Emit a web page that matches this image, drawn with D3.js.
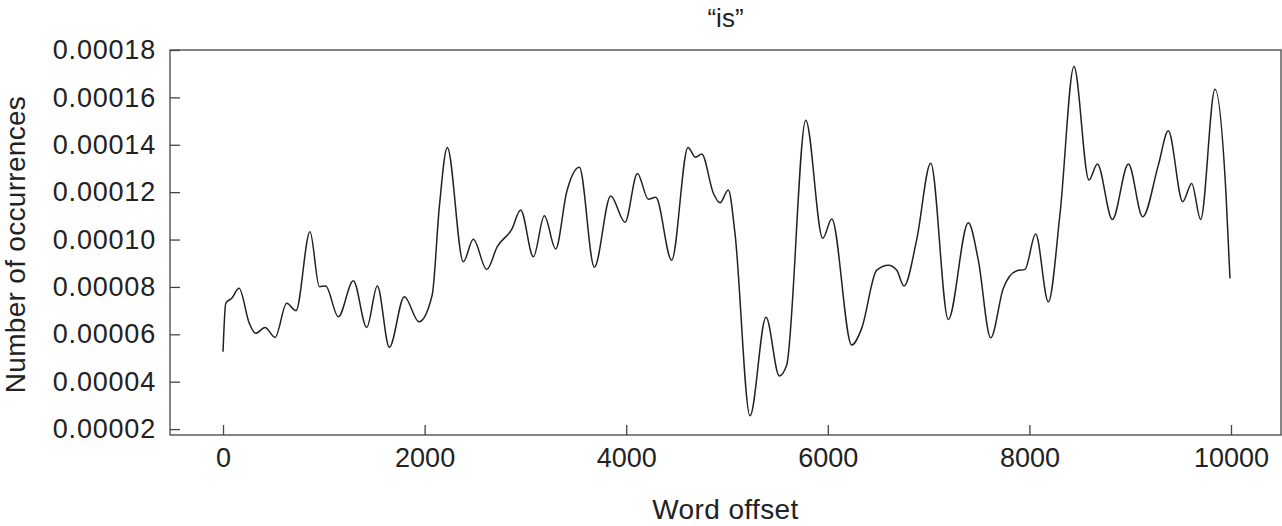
<!DOCTYPE html>
<html>
<head>
<meta charset="utf-8">
<script src="https://cdn.jsdelivr.net/npm/d3@7"></script>
<style>
  html, body { margin: 0; padding: 0; background: #fff; }
  svg text { font-family: "Liberation Sans", Arial, Helvetica, sans-serif; fill: #222; }
</style>
</head>
<body>
<div id="chart"></div>
<script>
const width = 1282;
const height = 526;

// word offset (x) and smoothed frequency of "is" (y)
const offsets = [
  0, 27, 86, 159, 261, 324, 417, 516, 632, 724, 863, 956, 1018, 1144, 1293,
  1426, 1531, 1650, 1799, 1944, 2075, 2146, 2225, 2384, 2483, 2616, 2721,
  2864, 2953, 3079, 3188, 3300, 3410, 3535, 3684, 3846, 3988, 4111, 4220,
  4293, 4451, 4613, 4688, 4749, 4865, 4931, 5013, 5079, 5228, 5387, 5519,
  5592, 5781, 5950, 6039, 6237, 6336, 6485, 6601, 6683, 6756, 6882, 7021,
  7195, 7394, 7493, 7616, 7741, 7874, 7956, 8062, 8188, 8304, 8442, 8591,
  8674, 8823, 8982, 9124, 9279, 9378, 9521, 9610, 9699, 9841, 9950, 9990
];
const occurrences = [
  0.0000526, 0.0000731, 0.0000752, 0.0000794, 0.0000646, 0.0000604, 0.0000629,
  0.0000587, 0.0000731, 0.0000700, 0.0001033, 0.0000801, 0.0000804, 0.0000674,
  0.0000826, 0.0000629, 0.0000804, 0.0000545, 0.0000759, 0.0000653, 0.0000766,
  0.0001138, 0.0001389, 0.0000906, 0.0001001, 0.0000874, 0.0000970, 0.0001043,
  0.0001125, 0.0000927, 0.0001100, 0.0000960, 0.0001202, 0.0001305, 0.0000883,
  0.0001184, 0.0001073, 0.0001279, 0.0001170, 0.0001178, 0.0000913, 0.0001389,
  0.0001347, 0.0001361, 0.0001195, 0.0001155, 0.0001209, 0.0001026, 0.0000256,
  0.0000672, 0.0000424, 0.0000470, 0.0001504, 0.0001005, 0.0001087, 0.0000555,
  0.0000625, 0.0000871, 0.0000892, 0.0000871, 0.0000804, 0.0001000, 0.0001322,
  0.0000663, 0.0001071, 0.0000913, 0.0000585, 0.0000794, 0.0000868, 0.0000874,
  0.0001023, 0.0000737, 0.0001110, 0.0001730, 0.0001251, 0.0001319, 0.0001085,
  0.0001319, 0.0001096, 0.0001314, 0.0001459, 0.0001160, 0.0001237, 0.0001085,
  0.0001634, 0.0001195, 0.0000836
];

const xTicks = [0, 2000, 4000, 6000, 8000, 10000];
const yTicks = [0.00002, 0.00004, 0.00006, 0.00008, 0.0001, 0.00012, 0.00014, 0.00016, 0.00018];

const data = offsets.map((x, i) => ({ x, y: occurrences[i] }));

const box = { left: 170, right: 1281, top: 50, bottom: 435 };

const svg = d3
  .select("#chart")
  .append("svg")
  .attr("width", width)
  .attr("height", height)
  .attr("viewBox", `0 0 ${width} ${height}`);

const x = d3.scaleLinear().domain([-526, 10496]).range([box.left, box.right]);
const y = d3.scaleLinear().domain([0.0000175, 0.00018]).range([box.bottom, box.top]);

// frame
svg
  .append("rect")
  .attr("x", box.left)
  .attr("y", box.top)
  .attr("width", box.right - box.left)
  .attr("height", box.bottom - box.top)
  .attr("fill", "none")
  .attr("stroke", "#444")
  .attr("stroke-width", 1.3);

// axes, ticks point inward
const xAxis = svg
  .append("g")
  .attr("transform", `translate(0,${box.bottom})`)
  .call(d3.axisBottom(x).tickValues(xTicks).tickSizeInner(-10).tickSizeOuter(0).tickPadding(13).tickFormat(d3.format("d")));

const yAxis = svg
  .append("g")
  .attr("transform", `translate(${box.left},0)`)
  .call(d3.axisLeft(y).tickValues(yTicks).tickSizeInner(-10).tickSizeOuter(0).tickPadding(14).tickFormat(d3.format(".5f")));

[xAxis, yAxis].forEach((g) => {
  g.select(".domain").remove();
  g.selectAll(".tick line").attr("stroke", "#444").attr("stroke-width", 1.3);
  g.selectAll(".tick text")
    .attr("fill", "#222")
    .style("font-family", '"Liberation Sans", Arial, sans-serif')
    .style("font-size", "27px");
});
yAxis.selectAll(".tick text").style("letter-spacing", "0.8px");

// the curve
svg
  .append("path")
  .datum(data)
  .attr("fill", "none")
  .attr("stroke", "#222")
  .attr("stroke-width", 1.5)
  .attr("d", d3.line().x((d) => x(d.x)).y((d) => y(d.y)).curve(d3.curveMonotoneX));

// labels
svg
  .append("text")
  .attr("x", (box.left + box.right) / 2)
  .attr("y", 27)
  .attr("text-anchor", "middle")
  .style("font-size", "26px")
  .text("\u201Cis\u201D");

svg
  .append("text")
  .attr("x", (box.left + box.right) / 2)
  .attr("y", 519)
  .attr("text-anchor", "middle")
  .style("font-size", "28px")
  .style("letter-spacing", "0.4px")
  .text("Word offset");

svg
  .append("text")
  .attr("transform", `translate(25,${(box.top + box.bottom) / 2 + 2}) rotate(-90)`)
  .attr("text-anchor", "middle")
  .style("font-size", "28px")
  .style("letter-spacing", "0.3px")
  .text("Number of occurrences");
</script>
</body>
</html>
